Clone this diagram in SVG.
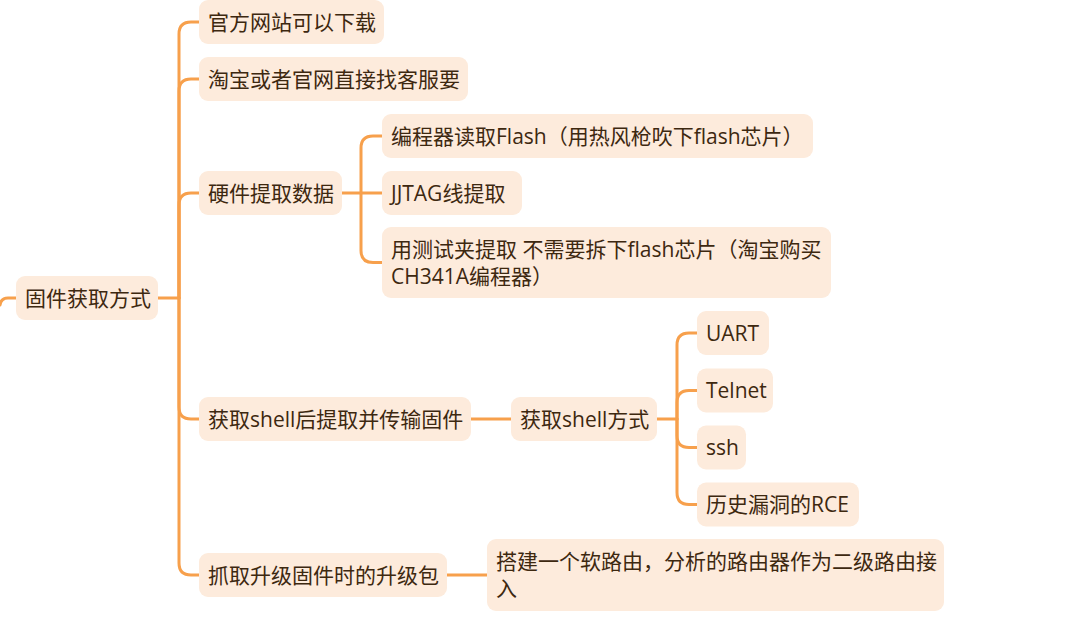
<svg xmlns="http://www.w3.org/2000/svg" width="1083" height="619" viewBox="0 0 1083 619">
<style>
.n{fill:#fdebdc}
.t{font-family:"Open Sans","Noto Sans CJK SC",sans-serif;font-size:21px;fill:#3d2810}
.c{fill:none;stroke:#f7a04c;stroke-width:3;stroke-linecap:round;stroke-linejoin:round}
</style>
<rect width="1083" height="619" fill="#ffffff"/>
<g id="connectors">
<path class="c" d="M0,305 Q1,298 8,298 H16"/>
<path class="c" d="M158,298 H179 V34 Q179,22 191,22 H199"/>
<path class="c" d="M179,298 V91 Q179,79 191,79 H199"/>
<path class="c" d="M179,298 V205 Q179,193 191,193 H199"/>
<path class="c" d="M179,298 V407 Q179,419 191,419 H199"/>
<path class="c" d="M179,298 V563 Q179,575 191,575 H199"/>
<path class="c" d="M342,193 H361 V148 Q361,136 373,136 H382"/>
<path class="c" d="M361,193 H382"/>
<path class="c" d="M361,193 V250.5 Q361,262.5 373,262.5 H382"/>
<path class="c" d="M471,419 H511"/>
<path class="c" d="M657,419 H677 V345 Q677,333 689,333 H697"/>
<path class="c" d="M677,419 V402.5 Q677,390.5 689,390.5 H697"/>
<path class="c" d="M677,419 V435.5 Q677,447.5 689,447.5 H697"/>
<path class="c" d="M677,419 V492.5 Q677,504.5 689,504.5 H697"/>
<path class="c" d="M447,575 H487"/>
</g>
<g id="root">
<rect class="n" x="16" y="276" width="142" height="44" rx="9"/>
<text class="t" x="25" y="305.5">固件获取方式</text>
</g>
<g id="n1">
<rect class="n" x="199" y="0" width="185" height="44" rx="9"/>
<text class="t" x="208" y="29.5">官方网站可以下载</text>
</g>
<g id="n2">
<rect class="n" x="199" y="57" width="269" height="44" rx="9"/>
<text class="t" x="208" y="86.5">淘宝或者官网直接找客服要</text>
</g>
<g id="n3">
<rect class="n" x="199" y="171" width="143" height="44" rx="9"/>
<text class="t" x="208" y="200.5">硬件提取数据</text>
</g>
<g id="n3a">
<rect class="n" x="382" y="114" width="431" height="44" rx="9"/>
<text class="t" x="391" y="143.5">编程器读取Flash（用热风枪吹下flash芯片）</text>
</g>
<g id="n3b">
<rect class="n" x="382" y="171" width="140" height="44" rx="9"/>
<text class="t" x="391" y="200.5">JJTAG线提取</text>
</g>
<g id="n3c">
<rect class="n" x="382" y="227" width="449" height="71" rx="9"/>
<text class="t" x="391" y="257">用测试夹提取 不需要拆下flash芯片（淘宝购买</text>
<text class="t" x="391" y="284">CH341A编程器）</text>
</g>
<g id="n4">
<rect class="n" x="199" y="397" width="272" height="44" rx="9"/>
<text class="t" x="208" y="426.5">获取shell后提取并传输固件</text>
</g>
<g id="n5">
<rect class="n" x="511" y="397" width="146" height="44" rx="9"/>
<text class="t" x="520" y="426.5">获取shell方式</text>
</g>
<g id="n5a">
<rect class="n" x="697" y="311" width="72" height="44" rx="9"/>
<text class="t" x="706" y="340.5">UART</text>
</g>
<g id="n5b">
<rect class="n" x="697" y="368.5" width="76" height="44" rx="9"/>
<text class="t" x="706" y="398">Telnet</text>
</g>
<g id="n5c">
<rect class="n" x="697" y="425.5" width="49" height="44" rx="9"/>
<text class="t" x="706" y="455">ssh</text>
</g>
<g id="n5d">
<rect class="n" x="697" y="482.5" width="162" height="44" rx="9"/>
<text class="t" x="706" y="512">历史漏洞的RCE</text>
</g>
<g id="n6">
<rect class="n" x="199" y="553" width="248" height="44" rx="9"/>
<text class="t" x="208" y="582.5">抓取升级固件时的升级包</text>
</g>
<g id="n7">
<rect class="n" x="487" y="539" width="457" height="72" rx="9"/>
<text class="t" x="496" y="569">搭建一个软路由，分析的路由器作为二级路由接</text>
<text class="t" x="496" y="596">入</text>
</g>
</svg>
